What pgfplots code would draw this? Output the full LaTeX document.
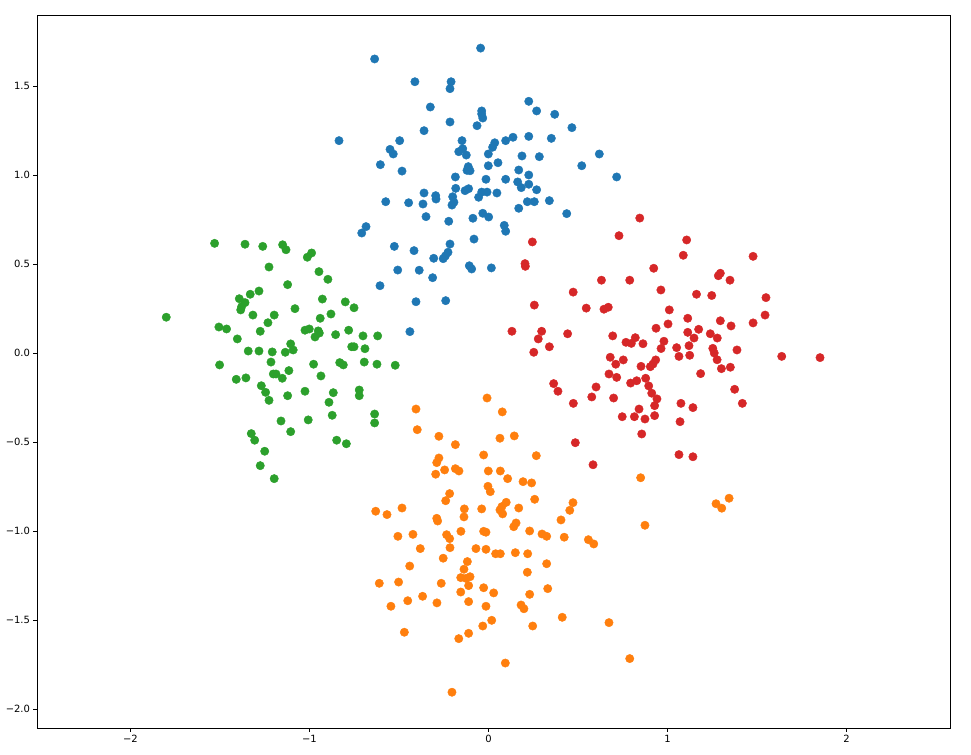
\documentclass[border=0pt]{standalone}
\usepackage{pgfplots}
\pgfplotsset{compat=1.18}
\usepackage{fontspec}
\setmainfont{DejaVu Sans}
\definecolor{tabblue}{HTML}{1F77B4}
\definecolor{taborange}{HTML}{FF7F0E}
\definecolor{tabgreen}{HTML}{2CA02C}
\definecolor{tabred}{HTML}{D62728}
\begin{document}
\begin{tikzpicture}
\begin{axis}[
  scale only axis, width=913bp, height=713bp,
  xmin=-2.522, xmax=2.578, ymin=-2.107, ymax=1.899,
  axis line style={line width=0.8bp},
  tick align=outside, xtick pos=bottom, ytick pos=left,
  major tick length=3.5bp, tick style={line width=0.8bp, black},
  xtick={-2,-1,0,1,2}, xticklabels={−2,−1,0,1,2},
  ytick={-2,-1.5,-1,-0.5,0,0.5,1,1.5},
  yticklabels={−2.0,−1.5,−1.0,−0.5,0.0,0.5,1.0,1.5},
  ticklabel style={font=\fontsize{10}{12}\selectfont},
  every axis plot/.append style={only marks, mark=*, mark size=4.2bp},
]
\addplot[tabblue, mark options={draw=tabblue, fill=tabblue}] coordinates {
(-0.044,1.713)(-0.636,1.652)(-0.411,1.524)(-0.209,1.524)(-0.215,1.485)(0.225,1.414)(0.269,1.360)(-0.325,1.382)(-0.038,1.360)(-0.038,1.343)
(-0.032,1.320)(-0.215,1.298)(-0.064,1.277)(-0.360,1.249)(-0.835,1.193)(-0.496,1.193)(-0.148,1.193)(0.096,1.193)(0.137,1.212)(0.225,1.217)
(-0.550,1.144)(-0.532,1.118)(-0.144,1.148)(-0.166,1.131)(-0.124,1.112)(0.035,1.181)(0.023,1.156)(-0.001,1.118)(0.187,1.107)(0.284,1.103)
(-0.604,1.058)(-0.483,1.022)(-0.113,1.047)(-0.103,1.024)(-0.120,1.026)(-0.001,1.052)(0.053,1.069)(0.169,1.028)(0.225,1.000)(-0.185,0.989)
(-0.014,0.976)(0.096,0.976)(0.163,0.961)(0.370,1.341)(0.466,1.266)(0.351,1.206)(0.619,1.118)(0.521,1.052)(0.716,0.989)(0.183,0.929)
(0.225,0.948)(0.269,0.917)(-0.183,0.925)(-0.131,0.912)(-0.111,0.923)(-0.038,0.904)(-0.008,0.904)(-0.055,0.875)(0.047,0.899)(-0.360,0.899)
(-0.295,0.884)(-0.293,0.865)(-0.200,0.878)(-0.193,0.847)(-0.204,0.831)(-0.574,0.850)(-0.446,0.844)(-0.366,0.837)(0.217,0.850)(0.256,0.850)
(0.169,0.813)(-0.349,0.766)(-0.222,0.740)(-0.087,0.757)(-0.032,0.785)(0.001,0.764)(0.088,0.717)(0.096,0.684)(-0.684,0.710)(-0.708,0.674)
(-0.081,0.640)(-0.215,0.612)(-0.526,0.599)(-0.416,0.575)(-0.226,0.566)(-0.241,0.545)(-0.253,0.530)(-0.306,0.532)(-0.107,0.490)(-0.094,0.472)
(0.016,0.478)(-0.507,0.466)(-0.387,0.465)(-0.312,0.423)(-0.606,0.378)(-0.405,0.288)(-0.239,0.294)(-0.439,0.120)(0.340,0.856)(0.437,0.783)
};
\addplot[taborange, mark options={draw=taborange, fill=taborange}] coordinates {
(-0.008,-0.253)(-0.405,-0.315)(0.077,-0.331)(-0.398,-0.431)(-0.277,-0.468)(0.064,-0.479)(0.144,-0.466)(-0.185,-0.515)(-0.027,-0.573)(0.267,-0.577)
(-0.277,-0.590)(-0.289,-0.616)(-0.245,-0.657)(-0.185,-0.650)(-0.165,-0.663)(-0.295,-0.681)(-0.001,-0.663)(0.066,-0.663)(0.107,-0.706)(0.193,-0.723)
(0.241,-0.730)(-0.003,-0.749)(0.010,-0.779)(-0.217,-0.790)(-0.239,-0.830)(0.099,-0.839)(0.258,-0.822)(0.075,-0.863)(0.064,-0.882)(0.079,-0.904)
(0.169,-0.871)(-0.038,-0.876)(-0.135,-0.876)(-0.137,-0.921)(-0.630,-0.889)(-0.567,-0.908)(-0.483,-0.871)(-0.289,-0.929)(-0.284,-0.944)(0.141,-0.976)
(0.154,-0.955)(0.230,-1.000)(0.299,-1.017)(0.325,-1.030)(-0.027,-1.002)(-0.014,-1.007)(-0.154,-1.002)(-0.506,-1.030)(-0.422,-1.019)(-0.234,-1.021)
(-0.217,-1.043)(-0.381,-1.099)(-0.215,-1.094)(-0.070,-1.099)(-0.014,-1.103)(0.040,-1.128)(0.066,-1.128)(0.150,-1.122)(0.219,-1.128)(-0.253,-1.153)
(-0.118,-1.172)(-0.440,-1.197)(0.325,-1.184)(-0.137,-1.215)(0.217,-1.232)(-0.155,-1.262)(-0.126,-1.266)(-0.103,-1.257)(-0.111,-1.307)(-0.610,-1.294)
(-0.502,-1.287)(-0.264,-1.294)(-0.027,-1.319)(0.331,-1.324)(-0.155,-1.343)(0.029,-1.348)(0.230,-1.356)(-0.368,-1.367)(-0.451,-1.392)(-0.288,-1.404)
(-0.111,-1.397)(-0.545,-1.423)(-0.014,-1.423)(0.182,-1.416)(0.198,-1.437)(0.018,-1.502)(-0.032,-1.534)(0.247,-1.534)(-0.470,-1.569)(-0.111,-1.575)
(-0.166,-1.605)(0.094,-1.742)(-0.204,-1.906)(0.850,-0.701)(0.472,-0.841)(0.454,-0.884)(0.405,-0.938)(0.423,-1.035)(0.558,-1.049)(0.588,-1.073)
(0.874,-0.968)(1.271,-0.847)(1.303,-0.872)(1.344,-0.816)(0.412,-1.485)(0.673,-1.515)(0.789,-1.717)
};
\addplot[tabgreen, mark options={draw=tabgreen, fill=tabgreen}] coordinates {
(-1.530,0.616)(-1.360,0.611)(-1.261,0.599)(-1.150,0.608)(-1.131,0.580)(-1.226,0.483)(-1.282,0.348)(-1.331,0.330)(-1.392,0.305)(-1.360,0.283)
(-1.379,0.260)(-1.384,0.242)(-1.316,0.213)(-1.197,0.213)(-1.800,0.201)(-1.232,0.170)(-1.506,0.146)(-1.463,0.135)(-1.275,0.122)(-1.403,0.079)
(-1.342,0.011)(-1.282,0.011)(-1.208,0.006)(-1.215,-0.051)(-1.502,-0.067)(-1.202,-0.118)(-1.187,-0.118)(-1.409,-0.148)(-1.355,-0.140)(-1.269,-0.184)
(-1.245,-0.221)(-1.226,-0.266)(-1.159,-0.382)(-1.325,-0.453)(-1.306,-0.490)(-1.250,-0.552)(-1.275,-0.633)(-1.197,-0.706)(-1.012,0.538)(-0.988,0.562)
(-0.947,0.457)(-0.897,0.414)(-1.122,0.384)(-0.928,0.303)(-0.800,0.287)(-0.751,0.254)(-1.081,0.249)(-0.940,0.195)(-0.880,0.219)(-1.025,0.128)
(-1.001,0.135)(-0.951,0.124)(-0.945,0.112)(-0.969,0.090)(-0.854,0.103)(-0.781,0.128)(-0.701,0.096)(-0.619,0.096)(-1.105,0.051)(-1.091,0.017)
(-1.135,0.004)(-0.764,0.035)(-0.751,0.035)(-0.690,0.024)(-0.977,-0.063)(-0.831,-0.054)(-0.811,-0.067)(-0.694,-0.051)(-0.623,-0.063)(-0.521,-0.069)
(-1.152,-0.142)(-1.115,-0.099)(-0.936,-0.129)(-1.122,-0.240)(-1.025,-0.215)(-0.867,-0.223)(-0.891,-0.277)(-0.722,-0.208)(-0.722,-0.240)(-0.873,-0.350)
(-0.636,-0.343)(-0.636,-0.393)(-1.007,-0.376)(-1.105,-0.442)(-0.848,-0.490)(-0.794,-0.510)
};
\addplot[tabred, mark options={draw=tabred, fill=tabred}] coordinates {
(0.845,0.758)(0.729,0.659)(0.245,0.624)(1.107,0.635)(1.088,0.549)(1.478,0.543)(0.204,0.502)(0.206,0.487)(0.923,0.476)(0.631,0.409)
(0.789,0.409)(1.284,0.434)(1.295,0.448)(1.349,0.409)(0.473,0.342)(0.963,0.354)(1.162,0.330)(1.247,0.323)(1.550,0.311)(0.256,0.269)
(0.546,0.252)(0.645,0.246)(0.669,0.257)(1.010,0.242)(1.545,0.213)(1.478,0.169)(1.003,0.163)(1.113,0.195)(1.295,0.181)(1.355,0.152)
(1.174,0.133)(1.113,0.116)(1.239,0.108)(1.148,0.084)(1.278,0.084)(0.980,0.066)(0.964,0.025)(1.051,0.030)(1.120,0.041)(1.253,0.026)
(1.261,0.000)(1.388,0.017)(1.064,-0.019)(1.124,-0.013)(1.277,-0.038)(1.638,-0.019)(1.852,-0.026)(1.301,-0.088)(1.351,-0.080)(1.185,-0.116)
(1.375,-0.204)(1.418,-0.283)(1.075,-0.283)(1.142,-0.307)(1.070,-0.386)(1.064,-0.571)(1.142,-0.583)(0.131,0.122)(0.297,0.122)(0.278,0.079)
(0.442,0.108)(0.340,0.035)(0.253,0.004)(0.936,0.139)(0.694,0.096)(0.768,0.060)(0.798,0.054)(0.820,0.086)(0.863,0.052)(0.680,-0.024)
(0.711,-0.063)(0.753,-0.039)(0.934,-0.039)(0.919,-0.062)(0.904,-0.077)(0.852,-0.075)(0.673,-0.118)(0.716,-0.137)(0.794,-0.169)(0.828,-0.156)
(0.878,-0.142)(0.895,-0.185)(0.912,-0.226)(0.941,-0.258)(0.928,-0.296)(0.928,-0.352)(0.841,-0.315)(0.815,-0.358)(0.874,-0.371)(0.747,-0.358)
(0.699,-0.253)(0.601,-0.191)(0.577,-0.247)(0.364,-0.172)(0.388,-0.215)(0.474,-0.283)(0.856,-0.455)(0.485,-0.504)(0.584,-0.628)
};
\end{axis}
\path (current axis.south west) +(-37bp,-27bp) (current axis.north east) +(21bp,15bp);
\end{tikzpicture}
\end{document}
